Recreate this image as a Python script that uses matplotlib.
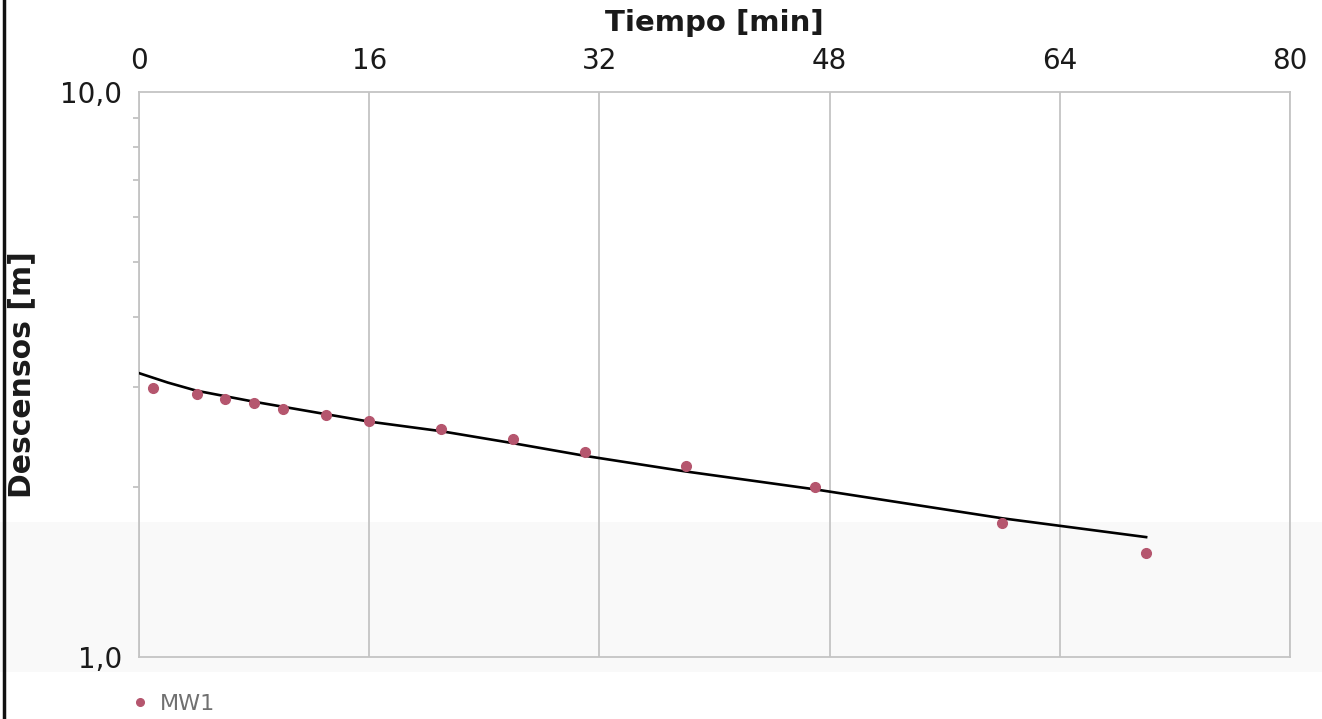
import matplotlib
matplotlib.use("Agg")
import matplotlib.pyplot as plt
from matplotlib.lines import Line2D
from matplotlib.patches import Rectangle
from matplotlib.ticker import FixedLocator, LogLocator, NullFormatter

plt.rcParams["font.family"] = ["DejaVu Sans"]

# Observed drawdown at well MW1
tiempo_obs = [1, 4, 6, 8, 10, 13, 16, 21, 26, 31, 38, 47, 60, 70]
descenso_obs = [2.99, 2.92, 2.86, 2.81, 2.75, 2.68, 2.62, 2.53, 2.43, 2.31, 2.18, 2.00, 1.73, 1.53]

# Fitted drawdown curve
tiempo_ajuste = [0, 2, 4, 8, 13, 16, 21, 26, 31, 38, 47, 60, 70]
descenso_ajuste = [3.18, 3.06, 2.96, 2.83, 2.69, 2.61, 2.51, 2.39, 2.27, 2.13, 1.98, 1.76, 1.63]

x_ticks = [0, 16, 32, 48, 64, 80]
y_ticks = [1.0, 10.0]
y_tick_labels = ["1,0", "10,0"]
serie = "MW1"

W, H = 1322, 719
fig = plt.figure(figsize=(W / 100, H / 100), dpi=100)
fig.patch.set_facecolor("white")

# faint scan band in the lower part of the page
fig.add_artist(Rectangle((0, 1 - 672 / H), 1, 150 / H, transform=fig.transFigure,
                         facecolor="#f9f9f9", edgecolor="none", zorder=0))
# dark page edge on the left
fig.add_artist(Line2D([4 / W, 4 / W], [0, 1], transform=fig.transFigure,
                      color="#111111", linewidth=2.5))

ax = fig.add_axes([139 / W, 1 - 657 / H, (1290 - 139) / W, (657 - 92) / H])
ax.set_facecolor("none")
ax.set_yscale("log")
ax.set_xlim(0, 80)
ax.set_ylim(1.0, 10.0)

grid_col = "#c4c4c4"
for s in ax.spines.values():
    s.set_color(grid_col)
    s.set_linewidth(1.3)

ax.xaxis.tick_top()
ax.xaxis.set_label_position("top")
ax.set_xticks(x_ticks)
ax.set_xticklabels([str(v) for v in x_ticks])
ax.tick_params(axis="x", which="both", length=0, pad=12, labelsize=20, labelcolor="#1a1a1a")
ax.grid(axis="x", color=grid_col, linewidth=1.3)

ax.yaxis.set_major_locator(FixedLocator(y_ticks))
ax.set_yticklabels(y_tick_labels)
ax.yaxis.set_minor_locator(LogLocator(base=10, subs=range(2, 10)))
ax.yaxis.set_minor_formatter(NullFormatter())
ax.tick_params(axis="y", which="major", length=0, pad=12, labelsize=20, labelcolor="#1a1a1a")
ax.tick_params(axis="y", which="minor", length=4, width=1.2, color="#bdbdbd", direction="out")

ax.set_xlabel("Tiempo [min]", fontsize=21, fontweight="bold", color="#1a1a1a")
ax.xaxis.set_label_coords(0.5, 1 + (92 - 23) / 565)
ax.xaxis.label.set_va("center")
ax.set_ylabel("Descensos [m]", fontsize=21.5, fontweight="bold", color="#1a1a1a")
ax.yaxis.set_label_coords((22 - 139) / 1151, 0.5)
ax.yaxis.label.set_va("center")

punto_col = "#b5566e"
ax.plot(tiempo_ajuste, descenso_ajuste, color="black", linewidth=1.9, zorder=3)
ax.plot(tiempo_obs, descenso_obs, linestyle="none", marker="o", markersize=7,
        markerfacecolor=punto_col, markeredgecolor=punto_col, zorder=4, clip_on=False)

handle = Line2D([], [], linestyle="none", marker="o", markersize=5.5,
                markerfacecolor=punto_col, markeredgecolor=punto_col)
leg = fig.legend([handle], [serie], loc="center left", frameon=False,
                 bbox_to_anchor=(131 / W, 1 - 704 / H), fontsize=16,
                 handlelength=0.8, handletextpad=0.5, borderpad=0, borderaxespad=0)
for t in leg.get_texts():
    t.set_color("#707070")

fig.savefig("out.png", dpi=100, facecolor="white")
